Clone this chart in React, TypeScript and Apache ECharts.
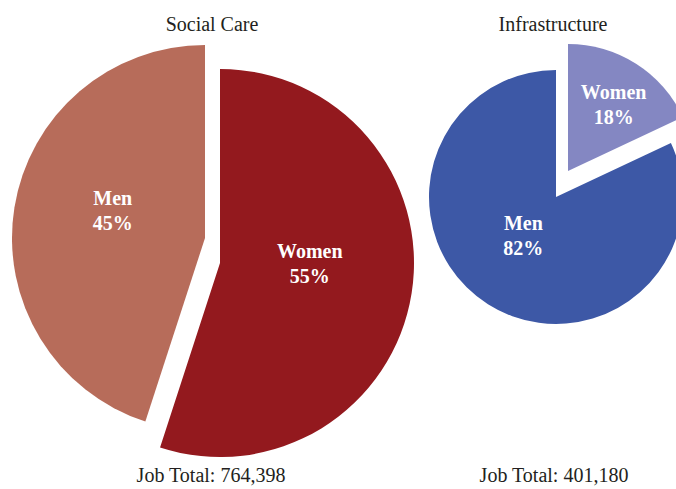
import React, { useEffect, useRef } from "react";
import * as echarts from "echarts";

const pieTitles = ["Social Care", "Infrastructure"];
const jobTotals = ["Job Total: 764,398", "Job Total: 401,180"];
const categories = ["Women", "Men"];
const socialCareValues = [55, 45];
const infrastructureValues = [18, 82];
const socialCareColors = ["#93191e", "#b76c5a"];
const infrastructureColors = ["#8487c2", "#3d58a6"];

const FONT = "'Liberation Serif', 'Times New Roman', serif";

function sliceSeries(
  values: number[],
  colors: string[],
  visibleIndex: number,
  center: [number, number],
  radius: number,
  labelOffset: [number, number]
) {
  return {
    type: "pie",
    center,
    radius,
    startAngle: 90,
    clockwise: true,
    silent: true,
    avoidLabelOverlap: false,
    labelLine: { show: false },
    emphasis: { disabled: true },
    data: values.map((v, i) => ({
      name: categories[i],
      value: v,
      itemStyle: {
        color: i === visibleIndex ? colors[i] : "rgba(0,0,0,0)",
        borderWidth: 0,
      },
      label: {
        show: i === visibleIndex,
        position: "inside",
        formatter: "{b}\n{c}%",
        color: "#ffffff",
        fontFamily: FONT,
        fontWeight: "bold",
        fontSize: 20,
        lineHeight: 25,
        offset: labelOffset,
      },
    })),
  };
}

export default function App() {
  const ref = useRef<HTMLDivElement>(null);
  useEffect(() => {
    if (!ref.current) return;
    const chart = echarts.init(ref.current, null, { renderer: "svg" });
    const titleStyle = { fontFamily: FONT, fontSize: 20, fontWeight: "normal", color: "#231f20" };
    chart.setOption({
      animation: false,
      backgroundColor: "#ffffff",
      title: [
        { text: pieTitles[0], left: 212, top: 14, padding: 0, textAlign: "center", textStyle: titleStyle },
        { text: pieTitles[1], left: 553, top: 14, padding: 0, textAlign: "center", textStyle: titleStyle },
        { text: jobTotals[0], left: 211, top: 465, padding: 0, textAlign: "center", textStyle: titleStyle },
        { text: jobTotals[1], left: 554, top: 465, padding: 0, textAlign: "center", textStyle: titleStyle },
      ],
      series: [
        sliceSeries(socialCareValues, socialCareColors, 0, [220, 263], 194, [-9, -15]),
        sliceSeries(socialCareValues, socialCareColors, 1, [205, 238], 193, [6, -12]),
        sliceSeries(infrastructureValues, infrastructureColors, 0, [568, 171], 127, [10, -10]),
        sliceSeries(infrastructureValues, infrastructureColors, 1, [556, 197], 127, [3, -18]),
      ],
    });
    return () => chart.dispose();
  }, []);
  return (
    <div
      ref={ref}
      style={{ position: "fixed", left: 0, top: 0, width: 676, height: 489 }}
    />
  );
}
